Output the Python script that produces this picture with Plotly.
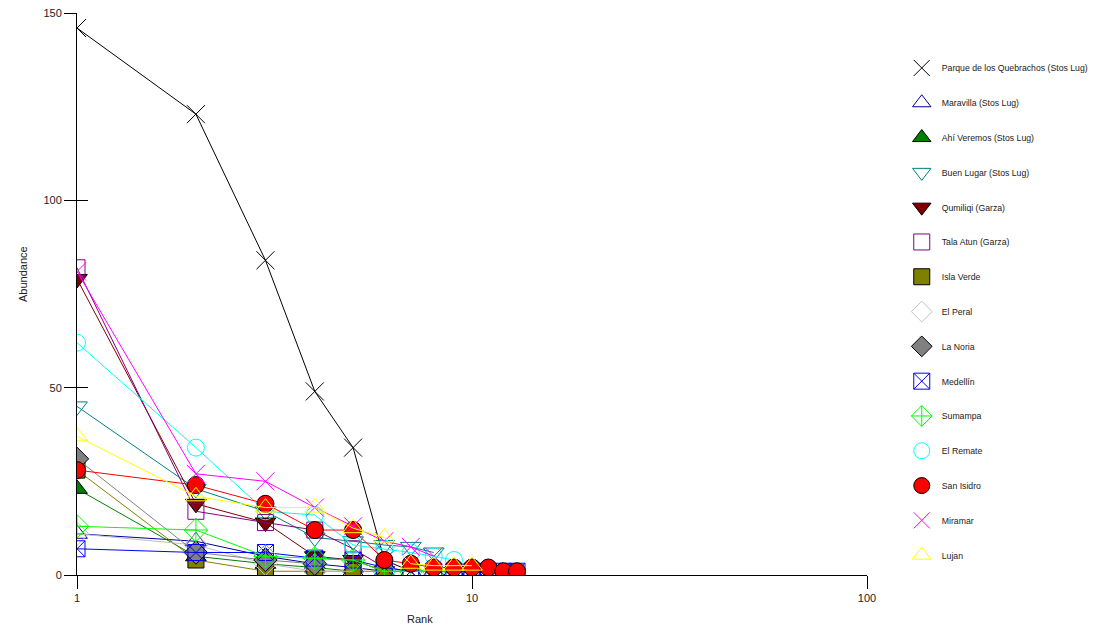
import plotly.graph_objects as go

# ---- data (rank-abundance per site) ----
names = [
    "Parque de los Quebrachos (Stos Lug)", "Maravilla (Stos Lug)", "Ahí Veremos (Stos Lug)",
    "Buen Lugar (Stos Lug)", "Qumiliqi (Garza)", "Tala Atun (Garza)", "Isla Verde",
    "El Peral", "La Noria", "Medellín", "Sumampa", "El Remate", "San Isidro", "Miramar", "Lujan",
]
parque = [146, 123, 84, 49, 34, 4, 1]
maravilla = [11, 9, 5, 3, 2, 1, 1, 1, 1, 1, 1]
ahi_veremos = [23, 5, 3, 2, 1]
buen_lugar = [45, 23, 17, 10, 9, 8, 7.5, 6]
qumiliqi = [79, 19, 14, 5, 4, 1]
tala_atun = [82, 17, 14, 12, 7, 2, 1]
isla_verde = [28, 4, 1, 1, 1, 1]
el_peral = [11, 8, 3, 1, 1]
la_noria = [31, 6, 4, 3]
medellin = [7, 6, 6, 4.5, 4, 2, 1, 1, 1, 1, 1, 1, 1]
sumampa = [13, 12, 5, 4.5, 4, 1, 1, 1]
el_remate = [62, 34, 17, 16, 8, 7, 6, 5, 4]
san_isidro = [28, 24, 19, 12, 12, 4, 3, 2, 2, 2, 2, 1, 1]
miramar = [81, 27, 25, 18, 13, 9, 7.5, 5]
lujan = [37, 21, 18, 18, 12.5, 10, 3, 2.5, 2.5, 2.5]

series = [parque, maravilla, ahi_veremos, buen_lugar, qumiliqi, tala_atun, isla_verde,
          el_peral, la_noria, medellin, sumampa, el_remate, san_isidro, miramar, lujan]

y_ticks = [0, 50, 100, 150]
x_ticks = [1, 10, 100]
x_tick_text = ["1", "10", "100"]

# ---- styles ----
styles = [
    dict(symbol="x-thin-open", color="#000000", fill=None, size=18),
    dict(symbol="triangle-up-open", color="#0000A0", fill=None, size=18),
    dict(symbol="triangle-up", color="#008000", fill="#008000", size=18),
    dict(symbol="triangle-down-open", color="#008080", fill=None, size=18),
    dict(symbol="triangle-down", color="#800000", fill="#800000", size=18),
    dict(symbol="square-open", color="#800080", fill=None, size=16),
    dict(symbol="square", color="#808000", fill="#808000", size=16),
    dict(symbol="diamond-open", color="#C0C0C0", fill=None, size=18),
    dict(symbol="diamond", color="#808080", fill="#808080", size=18),
    dict(symbol="square-x-open", color="#0000FF", fill=None, size=16),
    dict(symbol="diamond-cross-open", color="#00FF00", fill=None, size=18),
    dict(symbol="circle-open", color="#00FFFF", fill=None, size=17),
    dict(symbol="circle", color="#FF0000", fill="#FF0000", size=17),
    dict(symbol="x-thin-open", color="#FF00FF", fill=None, size=18),
    dict(symbol="triangle-up-open", color="#FFFF00", fill=None, size=18),
]

fig = go.Figure()
for i, (nm, vals, st) in enumerate(zip(names, series, styles)):
    ranks = list(range(1, len(vals) + 1))
    if st["fill"] is None:
        marker = dict(symbol=st["symbol"], size=st["size"], color=st["color"],
                      line=dict(color=st["color"], width=1))
    else:
        marker = dict(symbol=st["symbol"], size=st["size"], color=st["fill"],
                      line=dict(color="#000000", width=1))
    fig.add_trace(go.Scatter(
        x=ranks, y=vals, mode="lines", showlegend=False, hoverinfo="skip",
        line=dict(color=st["color"], width=1), legendgroup=f"g{i}",
    ))
    fig.add_trace(go.Scatter(
        x=ranks, y=vals, name=nm, mode="markers",
        marker=marker, legendgroup=f"g{i}",
    ))

# overlay axis for the outside half of the y ticks
fig.add_trace(go.Scatter(x=[1], y=[0], yaxis="y2", showlegend=False,
                         mode="markers", marker=dict(opacity=0), hoverinfo="skip"))

FONT = "Liberation Sans Narrow, Liberation Sans, Arial, sans-serif"

# page body adds an 8px margin, so the figure is offset by 8px
fig.update_layout(
    width=1094, height=627,
    margin=dict(l=69, r=235, t=5, b=60, autoexpand=False),
    paper_bgcolor="white", plot_bgcolor="white",
    font=dict(family=FONT, size=11, color="#222222"),
    xaxis=dict(type="log", range=[0, 2], tickvals=x_ticks, ticktext=x_tick_text,
               showgrid=False, zeroline=False, showline=True, linecolor="black",
               linewidth=1, ticks="outside", ticklen=13, tickcolor="black",
               mirror=False, ticklabeloverflow="allow"),
    yaxis=dict(range=[0, 150], tickvals=y_ticks, showgrid=False, zeroline=False,
               showline=True, linecolor="black", linewidth=1, ticks="inside",
               ticklen=11, tickcolor="black", ticklabelstandoff=12,
               ticklabeloverflow="allow"),
    yaxis2=dict(range=[0, 150], tickvals=y_ticks, overlaying="y", side="left",
                showgrid=False, zeroline=False, showline=False, ticks="outside",
                ticklen=12, tickcolor="black", showticklabels=False),
    legend=dict(x=1.044, xanchor="left", y=0.928, yanchor="top",
                font=dict(family=FONT, size=8.7, color="#222222"),
                tracegroupgap=15.8, bgcolor="rgba(0,0,0,0)", itemwidth=30),
    showlegend=True,
    annotations=[
        dict(text="Abundance", xref="paper", yref="paper", x=-0.0785, y=0.5356,
             showarrow=False, textangle=-90, font=dict(family=FONT, size=11)),
        dict(text="Rank", xref="paper", yref="paper", x=0.434, y=-0.0925,
             showarrow=False, font=dict(family=FONT, size=11)),
    ],
)

fig.write_html("out.html")
